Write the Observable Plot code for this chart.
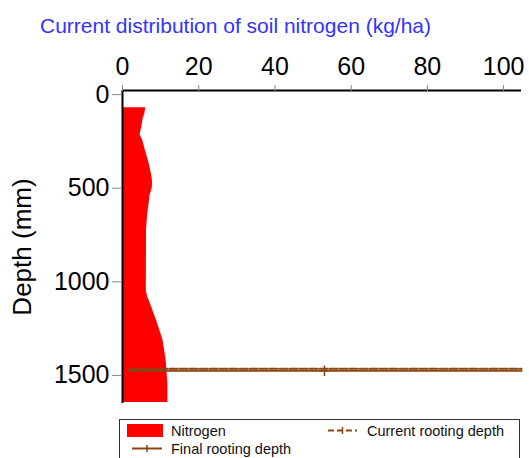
<!DOCTYPE html>
<html><head><meta charset="utf-8">
<script src="https://cdn.jsdelivr.net/npm/d3@7"></script>
<script src="https://cdn.jsdelivr.net/npm/@observablehq/plot@0.6"></script>
<style>
body{margin:0;background:#fff;font-family:"Liberation Sans",Arial,sans-serif;}
#wrap{position:relative;width:529px;height:458px;overflow:hidden;background:#fff;}
#plot{position:absolute;left:0;top:0;}
#title{position:absolute;left:40px;top:15px;font-size:21px;line-height:21px;color:#3333ff;white-space:nowrap;}
#legend{position:absolute;left:0;top:0;}
</style></head><body>
<div id="wrap">
<div id="plot"></div>
<div id="title">Current distribution of soil nitrogen (kg/ha)</div>
<svg id="legend" width="529" height="458"></svg>
</div>
<script>
// Data
const depth    = [70, 100, 130, 170, 215, 245, 305, 360, 430, 470, 500, 540, 580, 640, 720, 1050, 1080, 1110, 1210, 1310, 1410, 1540, 1645];
const nitrogen = [6.1, 5.9, 5.4, 5.1, 4.6, 5.3, 6.1, 6.9, 7.65, 7.9, 7.8, 7.2, 7.0, 6.6, 6.3, 6.25, 6.6, 7.2, 9.0, 10.6, 11.4, 11.9, 11.9];
const rootX = [1.8, 53, 104.7];
const finalRootingDepth = 1475;
const currentRootingDepth = 1465;
const markerX = [53];
const xTicks = [0, 20, 40, 60, 80, 100];
const yTicks = [0, 500, 1000, 1500];
const xDomain = [0, 104.7];
const yDomain = [-22, 1650];
const yLabel = "Depth (mm)";
const legendItems = ["Nitrogen", "Current rooting depth", "Final rooting depth"];

const brown = "#8b4513";
const profile = depth.map((d, i) => ({depth: d, n: nitrogen[i]}));
const finalLine = rootX.map(x => ({x, d: finalRootingDepth}));
const currentLine = rootX.map(x => ({x, d: currentRootingDepth}));
const markers = markerX.map(x => ({x, d: finalRootingDepth}));

const chart = Plot.plot({
  width: 529, height: 410,
  marginLeft: 122, marginRight: 8, marginTop: 90, marginBottom: 7,
  style: {fontFamily: "Liberation Sans, Arial, sans-serif", background: "transparent", color: "black"},
  x: {domain: xDomain, axis: null},
  y: {domain: yDomain, reverse: true, axis: null},
  marks: [
    Plot.areaX(profile, {y: "depth", x1: 0, x2: "n", fill: "#ff0000"}),
    Plot.line(finalLine, {x: "x", y: "d", stroke: brown, strokeWidth: 2}),
    Plot.line(currentLine, {x: "x", y: "d", stroke: brown, strokeWidth: 2, strokeDasharray: "8,2"}),
    Plot.dot(markers, {x: "x", y: "d", symbol: "plus", r: 3.5, stroke: brown, strokeWidth: 1.5}),
    Plot.ruleX([0], {stroke: "black", strokeWidth: 2}),
    Plot.ruleY([yDomain[0]], {stroke: "black", strokeWidth: 2}),
    Plot.axisX({anchor: "top", ticks: xTicks, tickSize: 6, tickPadding: 10, stroke: "#888", fill: "black", fontSize: 25, label: null, tickFormat: d => String(d)}),
    Plot.axisY({anchor: "left", ticks: yTicks, tickSize: 10, tickPadding: 3, stroke: "#888", fill: "black", fontSize: 25, label: null, tickFormat: d => String(d)}),
    Plot.text([yLabel], {frameAnchor: "left", textAnchor: "middle", dx: -100, rotate: -90, fontSize: 26, fill: "black"})
  ]
});
document.getElementById("plot").appendChild(chart);

// Legend
const lg = d3.select("#legend");
lg.append("rect").attr("x", 119.5).attr("y", 419.5).attr("width", 400).attr("height", 60)
  .attr("fill", "white").attr("stroke", "#333");
lg.append("rect").attr("x", 127).attr("y", 424).attr("width", 36).attr("height", 13).attr("fill", "#ff0000");
const tx = (x, y, s) => lg.append("text").attr("x", x).attr("y", y).text(s)
  .attr("font-family", "Liberation Sans, Arial, sans-serif").attr("font-size", 14.5).attr("fill", "#111");
tx(171, 436, legendItems[0]);
tx(367, 436, legendItems[1]);
tx(171, 453.5, legendItems[2]);
lg.append("line").attr("x1", 328).attr("x2", 357).attr("y1", 430.5).attr("y2", 430.5)
  .attr("stroke", brown).attr("stroke-width", 2).attr("stroke-dasharray", "6,3");
lg.append("line").attr("x1", 342.5).attr("x2", 342.5).attr("y1", 427).attr("y2", 434).attr("stroke", brown).attr("stroke-width", 1.5);
lg.append("line").attr("x1", 132).attr("x2", 162).attr("y1", 448.5).attr("y2", 448.5)
  .attr("stroke", brown).attr("stroke-width", 2);
lg.append("line").attr("x1", 147).attr("x2", 147).attr("y1", 445).attr("y2", 452).attr("stroke", brown).attr("stroke-width", 1.5);
</script>
</body></html>
